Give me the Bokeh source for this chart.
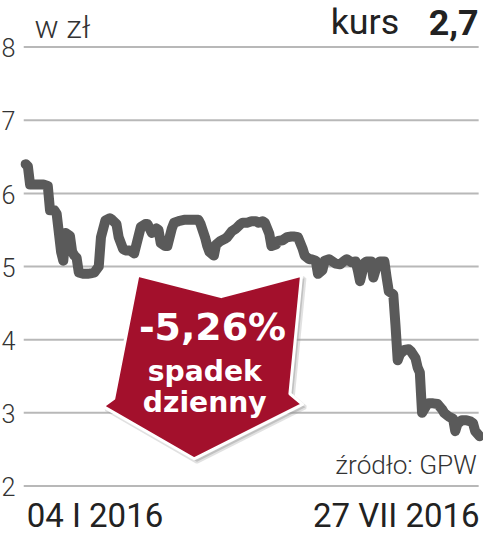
from bokeh.plotting import figure
from bokeh.models import Range1d
from bokeh.core.properties import value
from bokeh.embed import file_html
from bokeh.resources import INLINE

# ---- data ----
days = [0, 1, 2, 5, 8, 10, 11, 13, 14, 16, 17, 18, 20, 21, 22, 23, 24, 26, 28, 30,
        31, 33, 34, 36, 38, 39, 41, 42, 44, 45, 47, 49, 50, 52, 54, 55, 57, 59, 60, 61,
        63, 64, 66, 67, 69, 72, 74, 76, 78, 79, 81, 82, 83, 85, 86, 88, 90, 91, 93, 95,
        97, 98, 100, 102, 104, 105, 107, 108, 110, 111, 113, 114, 116, 118, 120, 121, 123, 125, 126, 128,
        129, 131, 132, 134, 135, 137, 139, 140, 142, 144, 145, 147, 149, 150, 151, 153, 154, 156, 157, 159,
        160, 162, 163, 164, 166, 167, 168, 169, 171, 173, 174, 176, 177, 178, 179, 181, 182, 184, 186, 188,
        189, 191, 193, 194, 195, 197, 199, 201, 202, 203, 205]
price = [6.40, 6.37, 6.12, 6.12, 6.12, 6.10, 5.77, 5.77, 5.72, 5.20, 5.08, 5.46, 5.42, 5.20, 5.15, 5.12, 4.92, 4.90, 4.90, 4.91,
         4.92, 5.00, 5.40, 5.63, 5.66, 5.64, 5.58, 5.40, 5.24, 5.22, 5.22, 5.18, 5.30, 5.54, 5.58, 5.58, 5.46, 5.52, 5.50, 5.32,
         5.28, 5.28, 5.52, 5.60, 5.62, 5.64, 5.64, 5.64, 5.64, 5.58, 5.40, 5.28, 5.20, 5.15, 5.30, 5.35, 5.38, 5.40, 5.48, 5.52,
         5.58, 5.60, 5.60, 5.62, 5.62, 5.60, 5.62, 5.60, 5.45, 5.28, 5.30, 5.35, 5.36, 5.40, 5.41, 5.41, 5.40, 5.25, 5.15, 5.10,
         5.10, 5.08, 4.90, 4.95, 5.08, 5.10, 5.06, 5.04, 5.03, 5.08, 5.10, 5.06, 5.07, 4.95, 4.80, 5.05, 5.07, 5.07, 4.85, 5.05,
         5.07, 5.07, 4.85, 4.66, 4.62, 4.20, 3.72, 3.80, 3.86, 3.87, 3.84, 3.75, 3.62, 3.55, 3.00, 3.10, 3.13, 3.13, 3.12, 3.05,
         3.00, 2.95, 2.92, 2.75, 2.85, 2.90, 2.90, 2.88, 2.86, 2.75, 2.68]
y_ticks = [2, 3, 4, 5, 6, 7, 8]
y_tick_labels = ["2", "3", "4", "5", "6", "7", "8"]
x_labels = ["04 I 2016", "27 VII 2016"]
unit_label = "w zł"
kurs_label = "kurs"
kurs_value = "2,7"
source_label = "źródło: GPW"
badge_lines = ["-5,26%", "spadek", "dzienny"]

# ---- layout helpers ----
W, H = 483, 535
SX = W / 499.0
SY = H / 551.0


def cx(rx):
    return rx * SX


def cy(ry):
    return ry * SY


def fs(px):
    return "%.1fpx" % (px * SY)


pxd = (cx(495) - cx(26)) / 205.0
x_start = -cx(26) / pxd
x_end = x_start + W / pxd
pyd = (cy(500) - cy(48)) / 6.0
y_end = 8 + cy(48) / pyd
y_start = y_end - H / pyd


def dx(rx):
    return x_start + cx(rx) / pxd


def dy(ry):
    return y_end - cy(ry) / pyd


p = figure(width=W, height=H, x_range=Range1d(x_start, x_end), y_range=Range1d(y_start, y_end),
           x_axis_type=None, y_axis_type=None, toolbar_location=None, output_backend="svg",
           min_border=0, min_border_left=0, min_border_right=0, min_border_top=0, min_border_bottom=0)
p.outline_line_color = None
p.grid.visible = False
p.background_fill_color = "white"
p.border_fill_color = "white"


def label(rx, ry, txt, align, font, size, color, bold=False):
    p.text(x=[dx(rx)], y=[dy(ry)], text=[txt], text_align=align, text_baseline="middle",
           text_font=value(font), text_font_style="bold" if bold else "normal",
           text_font_size=fs(size), text_color=color)


# grid lines
p.segment(x0=[dx(24)] * len(y_ticks), x1=[dx(494)] * len(y_ticks), y0=y_ticks, y1=y_ticks,
          line_color="#b8b8b8", line_width=2)

# y tick labels
p.text(x=[dx(1)] * len(y_ticks), y=[t - 0.01 for t in y_ticks], text=y_tick_labels,
       text_align="left", text_baseline="middle", text_font=value("Roboto Light"),
       text_font_size=fs(26), text_color="#333333")

# price line
p.line(days, price, line_color="#5a5a5a", line_width=10, line_join="round", line_cap="round")

# arrow badge
arrow_ref = [(142, 283), (228, 305), (311, 283), (299, 405), (312, 416), (200, 472), (106, 418), (117, 410)]
ax = [dx(a) for a, b in arrow_ref]
ay = [dy(b) for a, b in arrow_ref]
sx = [dx(a + 3) for a, b in arrow_ref]
sy = [dy(b + 3) for a, b in arrow_ref]
p.patch(sx, sy, fill_color="#9a9a9a", fill_alpha=0.45, line_color="#9a9a9a", line_alpha=0.3, line_width=4)
p.patch(ax, ay, fill_color="#a3102c", line_color="white", line_width=3, line_join="round")

label(219, 336, badge_lines[0], "center", "DejaVu Sans", 39, "white", bold=True)
label(211, 382, badge_lines[1], "center", "DejaVu Sans", 29, "white", bold=True)
label(211, 414, badge_lines[2], "center", "DejaVu Sans", 29, "white", bold=True)

# header
label(35, 27, unit_label, "left", "Roboto Light", 33, "#333333")
label(412, 22, kurs_label, "right", "Roboto", 37, "#222222")
label(494, 23, kurs_value, "right", "Roboto", 37, "#222222", bold=True)

# source
label(492, 478, source_label, "right", "Roboto Light", 27, "#333333")

# x labels
label(27, 530, x_labels[0], "left", "Roboto", 34, "#222222")
label(495, 530, x_labels[1], "right", "Roboto", 34, "#222222")

open("out.html", "w").write(file_html(p, INLINE))
